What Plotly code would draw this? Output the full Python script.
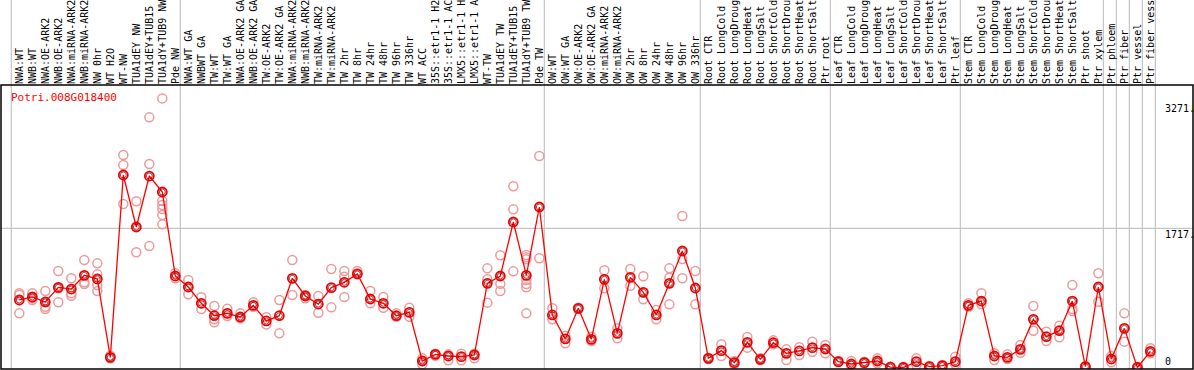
import plotly.graph_objects as go

gene = "Potri.008G018400"

labels = ["NWA:WT", "NWB:WT", "NWA:OE-ARK2", "NWB:OE-ARK2", "NWA:miRNA-ARK2", "NWB:miRNA-ARK2",
          "NW 0hr", "WT H2O", "WT-NW", "TUA1dEY NW", "TUA1dEY+TUB15 NW", "TUA1dY+TUB9 NW", "Pde NW",
          "NWA:WT GA", "NWBWT GA", "TW:WT", "TW:WT GA", "NWA:OE-ARK2 GA", "NWB:OE-ARK2 GA",
          "TW:OE-ARK2", "TW:OE-ARK2 GA", "NWA:miRNA-ARK2", "NWB:miRNA-ARK2", "TW:miRNA-ARK2",
          "TW:miRNA-ARK2", "TW 2hr", "TW 8hr", "TW 24hr", "TW 48hr", "TW 96hr", "TW 336hr",
          "WT ACC", "35S::etr1-1 H2O", "35S::etr1-1 ACC", "LMX5::etr1-1 H2O", "LMX5::etr1-1 ACC",
          "WT-TW", "TUA1dEY TW", "TUA1dEY+TUB15 TW", "TUA1dY+TUB9 TW", "Pde TW",
          "OW:WT", "OW:WT GA", "OW:OE-ARK2", "OW:OE-ARK2 GA", "OW:miRNA-ARK2", "OW:miRNA-ARK2",
          "OW 2hr", "OW 8hr", "OW 24hr", "OW 48hr", "OW 96hr", "OW 336hr",
          "Root CTR", "Root LongCold", "Root LongDrought", "Root LongHeat", "Root LongSalt",
          "Root ShortCold", "Root ShortDrought", "Root ShortHeat", "Root ShortSalt", "Ptr root",
          "Leaf CTR", "Leaf LongCold", "Leaf LongDrought", "Leaf LongHeat", "Leaf LongSalt",
          "Leaf ShortCold", "Leaf ShortDrought", "Leaf ShortHeat", "Leaf ShortSalt", "Ptr leaf",
          "Stem CTR", "Stem LongCold", "Stem LongDrought", "Stem LongHeat", "Stem LongSalt",
          "Stem ShortCold", "Stem ShortDrought", "Stem ShortHeat", "Stem ShortSalt", "Ptr shoot",
          "Ptr xylem", "Ptr phloem", "Ptr fiber", "Ptr vessel", "Ptr fiber vessel"]

means = [833, 870, 808, 989, 968, 1137, 1092, 125, 2375, 1733, 2362, 2165, 1129,
         993, 792, 639, 668, 623, 767, 574, 639, 1100, 882, 783, 985, 1051, 1153, 845, 792, 639, 680,
         80, 162, 142, 134, 154, 1038, 1129, 1795, 1137, 1980,
         648, 352, 730, 347, 1088, 421, 1112, 927, 648, 1038, 1437, 981,
         113, 208, 60, 310, 101, 306, 175, 204, 245, 228,
         72, 43, 60, 80, 5, 0, 72, 10, 23, 72,
         767, 820, 142, 125, 224, 594, 380, 454, 820, 10,
         993, 105, 483, 0, 199]

replicates = [
    [915, 894, 668], [915, 853, 833], [944, 750, 722], [1190, 977, 804], [1100, 915, 886],
    [1326, 1051, 1030], [1285, 1149, 1018, 944], [146, 113], [2621, 2498, 2017], [2050, 1421],
    [3086, 2510, 1499], [3320, 2054, 2004, 1955, 1881, 1766], [1162, 1100],
    [1079, 903], [866, 722], [759, 594, 557], [726, 635], [668, 606], [804, 750], [619, 532],
    [833, 421], [1326, 894], [894, 853], [882, 676], [1215, 742], [1190, 1120, 870], [1190, 1162],
    [944, 792], [870, 738], [668, 627], [738, 627],
    [113, 39], [171, 146], [162, 88], [171, 88], [171, 113], [1223, 1088, 800], [1384, 1034, 944],
    [2235, 1951, 1186], [1388, 1359, 1334, 1079, 1030, 989, 668], [2609, 1347],
    [730, 594], [393, 298], [738, 722], [380, 327], [1199, 977], [483, 360], [1215, 1009],
    [1125, 841], [709, 594], [1223, 1108, 779], [1869, 1338, 1100], [1190, 779],
    [121, 105], [286, 142], [80, 39], [376, 245], [113, 88], [335, 286], [224, 93], [249, 154],
    [319, 195], [278, 175],
    [80, 64], [80, 23], [72, 51], [113, 51], [8, 0], [10, 0], [113, 31], [19, 2], [31, 10], [134, 39],
    [792, 750], [915, 779], [175, 93], [162, 105], [278, 183], [759, 454], [442, 327], [516, 372],
    [1018, 722, 697], [19, 2],
    [1162, 812], [142, 64], [668, 319], [10, 0], [237, 175]]

axis_ticks = [3271, 1717, 0]
group_breaks = [-1, 12, 40, 52, 62, 72, 83, 84, 85, 86, 87]

xs = list(range(len(labels)))
rx, ry = [], []
for i, reps in enumerate(replicates):
    for v in reps:
        rx.append(i)
        ry.append(v)

fig = go.Figure()
fig.add_trace(go.Scatter(x=rx, y=ry, mode="markers", hoverinfo="skip",
                         marker=dict(symbol="circle-open", size=9, color="#ec9a9a",
                                     line=dict(width=1.5, color="#ec9a9a"))))
fig.add_trace(go.Scatter(x=xs, y=means, mode="lines+markers",
                         line=dict(color="#ff0000", width=1.3),
                         marker=dict(symbol="circle-open", size=9, color="#ee0000",
                                     line=dict(width=1.8, color="#ee0000"))))
fig.add_trace(go.Scatter(x=xs, y=means, mode="markers", hoverinfo="skip",
                         marker=dict(symbol="circle-open", size=6, color="#700000",
                                     line=dict(width=0.7, color="#700000"))))

shapes = []
for b in group_breaks:
    shapes.append(dict(type="line", xref="x", yref="paper", x0=b + 0.385, x1=b + 0.385,
                       y0=0, y1=1.32, line=dict(color="#c4c4c4", width=1.2), layer="below"))
shapes.append(dict(type="line", xref="paper", yref="y", x0=0, x1=1, y0=axis_ticks[1], y1=axis_ticks[1],
                   line=dict(color="#c4c4c4", width=1.2), layer="below"))
shapes.append(dict(type="rect", xref="paper", yref="paper", x0=0, x1=1, y0=0, y1=1,
                   line=dict(color="black", width=1.5), fillcolor="rgba(0,0,0,0)"))

annotations = [dict(text=gene, xref="paper", yref="paper", x=0.0067, y=0.955, xanchor="left",
                    yanchor="middle", showarrow=False,
                    font=dict(family="DejaVu Sans Mono", size=11, color="#ff0000"))]
for t in axis_ticks:
    annotations.append(dict(text=(f"{t}." if t else "0"), xref="paper", yref="y", x=0.9757, y=t,
                            xanchor="left", yanchor=("top" if t else "bottom"), showarrow=False,
                            borderpad=0,
                            font=dict(family="DejaVu Sans Mono", size=10, color="black")))

fig.update_layout(
    width=1194, height=370,
    margin=dict(l=1, r=1, t=85, b=1, autoexpand=False),
    paper_bgcolor="white", plot_bgcolor="white",
    showlegend=False,
    shapes=shapes, annotations=annotations,
    xaxis=dict(range=[-1.408, 90.28], side="top", tickmode="array", tickvals=xs, ticktext=labels,
               tickangle=-90, showgrid=False, zeroline=False, ticks="", automargin=False,
               tickfont=dict(family="DejaVu Sans Mono", size=10, color="black")),
    yaxis=dict(range=[-18.5, 3485], showgrid=False, zeroline=False, showticklabels=False,
               automargin=False),
)

fig.write_html("out.html", config={"displayModeBar": False},
               post_script="document.body.style.margin='0';document.body.style.overflow='hidden';")
